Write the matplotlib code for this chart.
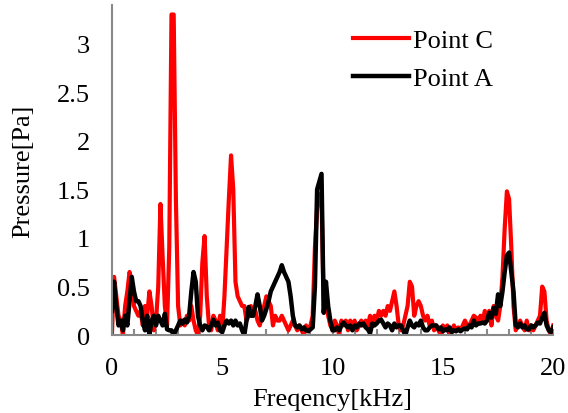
import numpy as np
import matplotlib
matplotlib.use("Agg")
import matplotlib.pyplot as plt

plt.rcParams["font.family"] = ["Liberation Serif", "DejaVu Serif"]

# frequency axis, 0.1 kHz steps
freq = np.round(np.arange(0, 20.05, 0.1), 1)

point_c = [
    0.0, 0.6, 0.4, 0.2, 0.15, 0.0, 0.3, 0.45, 0.65, 0.55,
    0.3, 0.25, 0.2, 0.25, 0.1, 0.3, 0.2, 0.45, 0.3, 0.05,
    0.15, 0.5, 1.35, 0.8, 0.3, 0.1, 0.9, 3.3, 3.3, 1.4,
    0.3, 0.1, 0.15, 0.1, 0.2, 0.15, 0.3, 0.15, 0.05, 0.0,
    0.2, 0.75, 1.02, 0.4, 0.1, 0.05, 0.2, 0.15, 0.05, 0.2,
    0.05, 0.4, 0.9, 1.4, 1.85, 1.5, 0.55, 0.4, 0.35, 0.3,
    0.3, 0.15, 0.2, 0.3, 0.2, 0.25, 0.15, 0.1, 0.2, 0.3,
    0.4, 0.35, 0.3, 0.1, 0.2, 0.15, 0.15, 0.2, 0.15, 0.1,
    0.05, 0.1, 0.15, 0.1, 0.05, 0.1, 0.05, 0.0, 0.1, 0.05,
    0.1, 0.2, 0.9, 1.3, 1.45, 1.4, 0.3, 0.4, 0.2, 0.1,
    0.05, 0.15, 0.1, 0.0, 0.15, 0.1, 0.15, 0.05, 0.15, 0.1,
    0.15, 0.05, 0.1, 0.15, 0.1, 0.15, 0.1, 0.2, 0.1, 0.2,
    0.15, 0.25, 0.2, 0.25, 0.2, 0.3, 0.25, 0.35, 0.45, 0.3,
    0.1, 0.05, 0.1, 0.2, 0.3, 0.55, 0.5, 0.2, 0.3, 0.35,
    0.3, 0.2, 0.15, 0.2, 0.1, 0.15, 0.05, 0.1, 0.05, 0.0,
    0.1, 0.05, 0.1, 0.0, 0.05, 0.1, 0.05, 0.08, 0.05, 0.1,
    0.15, 0.1, 0.1, 0.15, 0.2, 0.18, 0.15, 0.2, 0.15, 0.25,
    0.15, 0.25, 0.1, 0.3, 0.2, 0.15, 0.3, 0.6, 1.1, 1.48,
    1.4, 0.9, 0.3, 0.05, 0.1, 0.15, 0.1, 0.05, 0.15, 0.05,
    0.1, 0.05, 0.1, 0.15, 0.2, 0.5, 0.45, 0.15, 0.05, 0.0,
    0.1,
]

point_a = [
    0.25, 0.55, 0.3, 0.1, 0.15, 0.05, 0.2, 0.1, 0.35, 0.6,
    0.45, 0.35, 0.35, 0.3, 0.15, 0.05, 0.2, 0.0, 0.15, 0.2,
    0.1, 0.2, 0.15, 0.1, 0.22, 0.06, 0.05, 0.05, 0.0, 0.05,
    0.1, 0.15, 0.12, 0.16, 0.13, 0.2, 0.45, 0.65, 0.55, 0.2,
    0.1, 0.05, 0.1, 0.09, 0.05, 0.1, 0.16, 0.1, 0.13, 0.05,
    0.03, 0.1, 0.15, 0.12, 0.15, 0.1, 0.15, 0.1, 0.12, 0.05,
    0.0, 0.15, 0.29, 0.2, 0.2, 0.3, 0.42, 0.3, 0.15, 0.2,
    0.27, 0.35, 0.45, 0.5, 0.55, 0.6, 0.65, 0.72, 0.65, 0.6,
    0.55, 0.4, 0.2, 0.1, 0.08, 0.1, 0.06, 0.08, 0.05, 0.04,
    0.06, 0.08, 0.5, 1.5, 1.58, 1.66, 0.23, 0.55, 0.3, 0.15,
    0.05, 0.05, 0.08, 0.05, 0.1, 0.13, 0.1, 0.08, 0.1, 0.05,
    0.1, 0.08, 0.12, 0.1, 0.12, 0.08, 0.06, 0.02, 0.12, 0.1,
    0.12, 0.15, 0.16, 0.12, 0.08, 0.12, 0.1, 0.05, 0.12, 0.08,
    0.1, 0.1, 0.05, 0.0, 0.08, 0.15, 0.1, 0.08, 0.12, 0.1,
    0.15, 0.08, 0.05, 0.05, 0.08, 0.1, 0.1, 0.1, 0.06, 0.08,
    0.04, 0.06, 0.05, 0.08, 0.03, 0.05, 0.04, 0.06, 0.04, 0.06,
    0.07, 0.06, 0.1, 0.08, 0.15, 0.1, 0.12, 0.12, 0.13, 0.12,
    0.15, 0.23, 0.18, 0.28, 0.22, 0.42, 0.3, 0.45, 0.65, 0.82,
    0.85, 0.65, 0.45, 0.1, 0.08, 0.12, 0.08, 0.1, 0.06, 0.06,
    0.1, 0.08, 0.1, 0.13, 0.12, 0.18, 0.23, 0.1, 0.05, 0.03,
    0.08,
]

fig = plt.figure(figsize=(5.68, 4.14), dpi=100)
ax = fig.add_axes([0.197, 0.188, 0.777, 0.798])

ax.plot(freq, point_c, color="#ff0000", lw=3, label="Point C", solid_joinstyle="round")
ax.plot(freq, point_a, color="#000000", lw=3.2, label="Point A", solid_joinstyle="round")

ax.set_xlim(0, 20)
ax.set_ylim(0, 3.4)
ax.set_xticks([0, 5, 10, 15, 20])
ax.set_xticks(np.arange(0, 21, 1), minor=True)
ax.set_yticks([0, 0.5, 1, 1.5, 2, 2.5, 3])
ax.set_yticklabels(["0", "0.5", "1", "1.5", "2", "2.5", "3"])

for s in ["top", "right"]:
    ax.spines[s].set_visible(False)
for s in ["left", "bottom"]:
    ax.spines[s].set_color("#898989")
    ax.spines[s].set_linewidth(1.5)

fs = 19
ax.tick_params(axis="x", which="both", direction="in", length=4, width=1.5,
               color="#898989", labelsize=fs, pad=16)
ax.tick_params(axis="y", length=0, labelsize=fs, pad=16)

ax.set_xlabel("Freqency[kHz]", fontsize=fs, labelpad=6)
ax.set_ylabel("Pressure[Pa]", fontsize=fs, labelpad=16)

ax.legend(loc="upper left", bbox_to_anchor=(0.523, 0.96), borderaxespad=0,
          frameon=False, fontsize=fs, handlelength=2.1, handletextpad=0.15,
          labelspacing=0.55)

fig.savefig("out.png", dpi=100)
